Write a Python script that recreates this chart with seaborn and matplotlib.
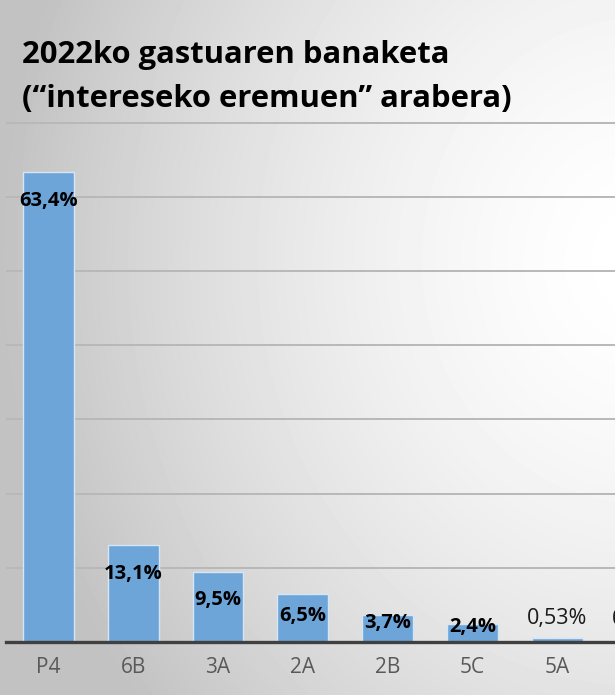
import numpy as np
import pandas as pd
import matplotlib
matplotlib.use("Agg")
import matplotlib.pyplot as plt
import seaborn as sns

# --- Data ---
categories = ["P4", "6B", "3A", "2A", "2B", "5C", "5A", "6A"]
shares = [63.4, 13.1, 9.5, 6.5, 3.7, 2.4, 0.53, 0.36]
labels = ["63,4%", "13,1%", "9,5%", "6,5%", "3,7%", "2,4%", "0,53%", "0,36%"]

TITLE_LINES = ["2022ko gastuaren banaketa", "(\u201cintereseko eremuen\u201d arabera)"]

BAR_COLOR = "#6da5d9"

sns.set_theme(style="white")
plt.rcParams['font.family'] = ['Open Sans', 'DejaVu Sans']

df = pd.DataFrame({"cat": categories, "share": shares})

fig = plt.figure(figsize=(6.15, 6.95), dpi=100)

# radial grey-to-white background
bg = fig.add_axes([0, 0, 1, 1], zorder=-10)
yy, xx = np.mgrid[0:695, 0:615]
r = np.sqrt((xx - 640) ** 2 + ((yy - 260) * 0.9) ** 2)
shade = np.clip(1.0 - 0.24 * (r / 640) ** 1.6, 0.76, 1.0)
bg.imshow(shade, cmap="gray", vmin=0, vmax=1, aspect="auto", extent=[0, 615, 695, 0])
bg.set_axis_off()

# plot area spans past the right edge, as in the cropped reference
px_per_cat = 84.8
ax = fig.add_axes([6 / 615, 53 / 695, len(categories) * px_per_cat / 615, 71 * 7.42 / 695])
ax.set_facecolor("none")

sns.barplot(data=df, x="cat", y="share", color=BAR_COLOR, width=0.6,
            edgecolor="#d6e6f5", linewidth=1.0, saturation=1, ax=ax, zorder=3)

ax.set_ylim(0, 71)
ax.set_yticks(range(10, 71, 10))
ax.yaxis.grid(True, color="#b8b8b8", linewidth=1.4)
ax.set_axisbelow(True)
ax.set_yticklabels([])
ax.tick_params(axis="y", length=0)
ax.tick_params(axis="x", length=0, pad=10.5, labelsize=15, labelcolor="#595959")
ax.set_xlabel("")
ax.set_ylabel("")
for s in ["top", "right", "left"]:
    ax.spines[s].set_visible(False)
ax.spines["bottom"].set_color("#404040")
ax.spines["bottom"].set_linewidth(2.4)
ax.spines["bottom"].set_zorder(4)

for i, (v, txt) in enumerate(zip(shares, labels)):
    if v < 1:
        ax.text(i, v + 2.7, txt, ha="center", va="center", fontsize=15.5,
                color="#1a1a1a", zorder=5)
    else:
        yc = max(v - 3.9, 0.35 * v + 1.2)
        ax.text(i, yc, txt, ha="center", va="center", fontsize=14.5,
                fontweight="bold", color="black", zorder=5)

# title, two lines on fixed baselines
for line, base_px in zip(TITLE_LINES, [63, 107]):
    fig.text(22 / 615, 1 - base_px / 695, line, ha="left", va="baseline",
             fontsize=22.3, fontweight="bold", color="black")

fig.savefig("out.png", dpi=100)
